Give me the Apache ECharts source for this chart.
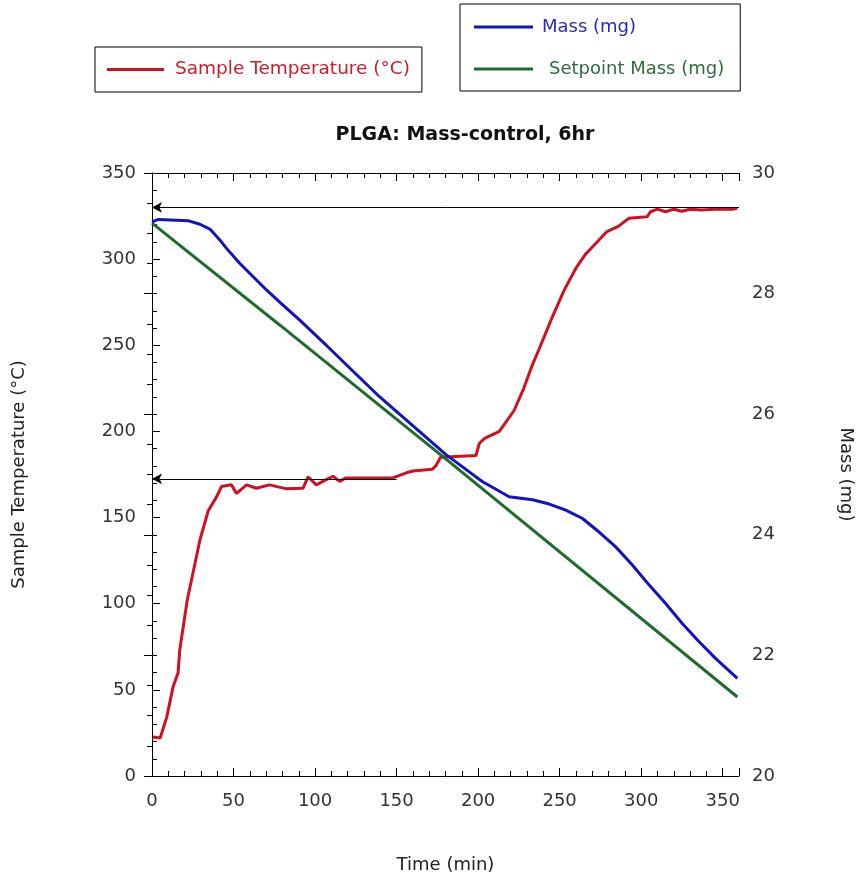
<!DOCTYPE html>
<html>
<head>
<meta charset="utf-8">
<script src="https://cdn.jsdelivr.net/npm/echarts@6/dist/echarts.min.js"></script>
<style>
  html, body { margin: 0; padding: 0; background: #fff; }
  #main { width: 858px; height: 881px; }
</style>
</head>
<body>
<div id="main"></div>
<script>
// sample temperature (°C), left axis
var tempTime = [0.5, 5, 9, 13, 16, 17, 21.6, 29.4, 34.5, 39.6, 42.6, 48.7, 51.8, 58, 64, 72, 82, 92.6, 95.7, 100.8,
    104.8, 111, 115, 119, 131, 147.7, 156, 160, 172, 174, 177, 198.7, 200.7, 204, 213, 222, 228, 233, 237.5, 245.6,
    252.8, 259.9, 266, 274, 279, 286, 292.5, 303.7, 305.7, 310, 315, 320, 325, 330, 337, 345, 355.6, 359];
var tempVal = [22.6, 22, 34, 52, 60, 73, 102, 137, 154, 162, 168, 169, 164, 169, 167, 169, 166.8, 167, 173.7, 169,
    171, 174, 171, 173, 173, 173, 176, 177, 178, 180, 185, 186, 193, 196, 200, 212, 225, 238, 248, 266.6,
    282, 294.6, 303, 311, 316, 319, 323.7, 324.6, 327.5, 329, 327.5, 329, 327.8, 329, 328.5, 329, 329, 329.5];

// measured mass (mg), right axis
var massTime = [0, 4, 22, 29.4, 35.5, 41.6, 45.7, 53.9, 70.2, 78.3, 90.6, 107, 139.5, 180.3, 198.7, 202.8, 219,
    233.4, 243.6, 253.8, 264, 274, 284.4, 294.6, 304.8, 315, 325.2, 335.4, 345.6, 359];
var massVal = [29.19, 29.23, 29.21, 29.15, 29.07, 28.89, 28.75, 28.50, 28.06, 27.86, 27.56, 27.14, 26.29, 25.33, 24.96,
    24.88, 24.63, 24.58, 24.51, 24.41, 24.27, 24.05, 23.80, 23.50, 23.17, 22.86, 22.53, 22.23, 21.95, 21.62];

// setpoint mass (mg), right axis
var setTime = [0, 78.3, 182.4, 359];
var setVal = [29.17, 27.48, 25.21, 21.31];

// reference arrows on the temperature axis
var arrowTemps = [330, 172.5];
var arrowStarts = [360, 150];

var timeTicks = [0, 50, 100, 150, 200, 250, 300, 350];

function zip(a, b) {
    var out = [];
    for (var i = 0; i < a.length; i++) out.push([a[i], b[i]]);
    return out;
}

var font = 'DejaVu Sans';
var axisLine = { show: true, lineStyle: { color: '#000', width: 1 } };
var axisTick = { show: true, inside: true, length: 8, lineStyle: { color: '#000' } };

var arrowData = [];
for (var k = 0; k < arrowTemps.length; k++) {
    arrowData.push([{ coord: [arrowStarts[k], arrowTemps[k]] }, { coord: [0, arrowTemps[k]] }]);
}

var myChart = echarts.init(document.getElementById('main'));
var option = {
    backgroundColor: '#fff',
    animation: false,
    textStyle: { fontFamily: font },
    title: {
        text: 'PLGA: Mass-control, 6hr',
        left: 460, top: 121, textAlign: 'center',
        textStyle: { fontFamily: font, fontSize: 19, fontWeight: 'bold', color: '#111' }
    },
    legend: [
        {
            left: 95, top: 47,
            padding: [13, 12, 13, 12],
            icon: 'rect', itemWidth: 57, itemHeight: 3,
            borderColor: '#000', borderWidth: 1,
            textStyle: { fontFamily: font, fontSize: 18.5, padding: [0, 0, 0, 6] },
            data: [{ name: 'Sample Temperature (°C)', textStyle: { color: '#c8202a' } }]
        },
        {
            left: 460, top: 4, orient: 'vertical',
            padding: [14, 16, 13, 14],
            itemGap: 24,
            icon: 'rect', itemWidth: 59, itemHeight: 3,
            borderColor: '#000', borderWidth: 1,
            textStyle: { fontFamily: font, fontSize: 18, padding: [0, 0, 0, 4] },
            data: [
                { name: 'Mass (mg)', textStyle: { color: '#2a2ab8' } },
                { name: 'Setpoint Mass (mg)', textStyle: { color: '#2d6e3c', padding: [0, 0, 0, 11] } }
            ]
        }
    ],
    grid: { left: 152, right: 119, top: 173, bottom: 105, containLabel: false, outerBoundsMode: 'none' },
    xAxis: [
        {
            type: 'value', position: 'bottom', min: 0, max: 360, interval: 50,
            axisLine: axisLine, axisTick: axisTick, splitLine: { show: false },
            minorTick: { show: true, splitNumber: 5, length: 5, lineStyle: { color: '#000' } },
            axisLabel: { fontSize: 18, color: '#333', margin: 16, showMaxLabel: false,
                formatter: function (v) { return timeTicks.indexOf(v) >= 0 ? String(v) : ''; } },
            name: 'Time (min)', nameLocation: 'middle', nameGap: 80,
            nameTextStyle: { fontSize: 18, color: '#222' }
        },
        {
            type: 'value', position: 'top', min: 0, max: 360, interval: 50,
            axisLine: axisLine, axisTick: axisTick, splitLine: { show: false },
            minorTick: { show: true, splitNumber: 5, length: 5, lineStyle: { color: '#000' } },
            axisLabel: { show: false }
        }
    ],
    yAxis: [
        {
            type: 'value', position: 'left', min: 0, max: 350, interval: 50,
            axisLine: axisLine, axisTick: axisTick, splitLine: { show: false },
            minorTick: { show: true, splitNumber: 5, length: 5, lineStyle: { color: '#000' } },
            axisLabel: { fontSize: 18, color: '#333', margin: 16 },
            name: 'Sample Temperature (°C)', nameLocation: 'middle', nameGap: 124, nameRotate: 90,
            nameTextStyle: { fontSize: 18, color: '#222' }
        },
        {
            type: 'value', position: 'right', min: 20, max: 30, interval: 2,
            axisLine: axisLine, axisTick: axisTick, splitLine: { show: false },
            minorTick: { show: true, splitNumber: 4, length: 5, lineStyle: { color: '#000' } },
            axisLabel: { fontSize: 18, color: '#333', margin: 13 },
            name: 'Mass (mg)', nameLocation: 'middle', nameGap: 98, nameRotate: -90,
            nameTextStyle: { fontSize: 18, color: '#222' }
        }
    ],
    series: [
        {
            name: 'Sample Temperature (°C)', type: 'line', xAxisIndex: 0, yAxisIndex: 0,
            data: zip(tempTime, tempVal), showSymbol: false, symbol: 'none',
            color: '#d01020', lineStyle: { width: 3, color: '#d01020' }, z: 2,
            markLine: {
                silent: true, symbol: ['none', 'arrow'], symbolSize: [8, 10],
                label: { show: false },
                lineStyle: { color: '#000', width: 1, type: 'solid' },
                data: arrowData
            }
        },
        {
            name: 'Setpoint Mass (mg)', type: 'line', xAxisIndex: 0, yAxisIndex: 1,
            data: zip(setTime, setVal), showSymbol: false, symbol: 'none',
            color: '#1f6b2c', lineStyle: { width: 3, color: '#1f6b2c' }, z: 3
        },
        {
            name: 'Mass (mg)', type: 'line', xAxisIndex: 0, yAxisIndex: 1,
            data: zip(massTime, massVal), showSymbol: false, symbol: 'none',
            color: '#1212c4', lineStyle: { width: 3, color: '#1212c4' }, z: 4
        }
    ]
};
myChart.setOption(option);
</script>
</body>
</html>
